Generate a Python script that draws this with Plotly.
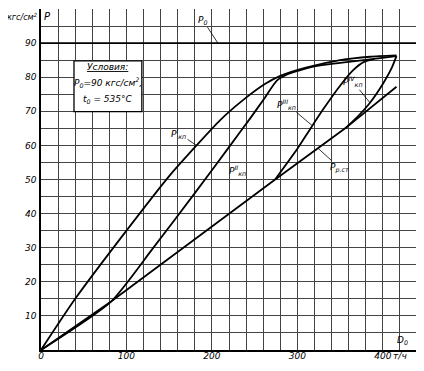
import plotly.graph_objects as go

# ---- data ----
D_kp1 = [0, 40, 100, 150, 182, 210, 240, 262, 280, 310, 350, 385, 416]
P_kp1 = [0, 15, 35, 51, 60, 67.5, 74, 78, 80.4, 82.8, 85.0, 86.0, 86.4]

D_kp2 = [0, 82, 130, 180, 220, 245, 262, 276, 290, 320, 350, 385, 416]
P_kp2 = [0, 14.2, 29.5, 46, 59.5, 68, 74, 79, 81, 83.2, 84.2, 85.2, 86.2]

D_kp3 = [274, 300, 315, 330, 350, 365, 378, 390]
P_kp3 = [50, 59, 64.8, 70.5, 77.5, 82, 84.5, 85.3]

D_kp4 = [356, 370, 385, 400, 410, 416]
P_kp4 = [65, 68.3, 72.5, 78, 82.5, 86.2]

D_pst = [0, 82, 274, 356, 416]
P_pst = [0, 14.2, 50, 65, 77.2]

D_p0 = [0, 440]
P_p0 = [90, 90]

x_tickvals = list(range(0, 441, 20))
x_ticktext = [str(v) if v in (0, 100, 200, 300, 400) else ("т/ч" if v == 420 else "") for v in x_tickvals]
y_tickvals = list(range(0, 100, 5))
y_ticktext = [str(v) if (v % 10 == 0 and v > 0) else "" for v in y_tickvals]

FONT = "DejaVu Sans"
ital = dict(family=FONT, size=9, color="black", style="italic")

fig = go.Figure()
line_style = dict(color="black", width=1.8, shape="spline", smoothing=0.6)
for xs, ys in [(D_p0, P_p0), (D_kp1, P_kp1), (D_kp2, P_kp2), (D_kp3, P_kp3), (D_kp4, P_kp4)]:
    fig.add_trace(go.Scatter(x=xs, y=ys, mode="lines", line=line_style, showlegend=False, hoverinfo="skip"))
fig.add_trace(go.Scatter(x=D_pst, y=P_pst, mode="lines", line=dict(color="black", width=1.8),
                         showlegend=False, hoverinfo="skip"))

# right border of grid
fig.add_shape(type="line", x0=440, x1=440, y0=0, y1=100, line=dict(color="#444", width=1))

# conditions box
fig.add_shape(type="rect", x0=38.6, x1=118, y0=69.9, y1=84.8,
              fillcolor="white", line=dict(color="black", width=1.3), layer="above")
box_lines = [("<u>Условия:</u>", 83.0), ("P<sub>0</sub>=90 кгс/см<sup>2</sup>,", 78.4), ("t<sub>0</sub> = 535°C", 73.6)]
for txt, yy in box_lines:
    fig.add_annotation(x=78.3, y=yy, text=txt, showarrow=False, font=ital, xanchor="center", yanchor="middle")

# curve labels with leaders
labels = [
    ("P<sub>0</sub>", D_p0[0] + 207, 90, -15, -23),
    ("P<sup>I</sup><sub>кп</sub>", D_kp1[4], P_kp1[4], -18, -12),
    ("P<sup>II</sup><sub>кп</sub>", 213, 57.2, 14, 16),
    ("P<sup>III</sup><sub>кп</sub>", 317, 65.9, -25, -21),
    ("P<sup>IV</sup><sub>кп</sub>", 385, 72.5, -17, -21),
    ("P<sub>р.ст</sub>", 324, 59.2, 22, 20),
]
for txt, xx, yy, ax, ay in labels:
    fig.add_annotation(x=xx, y=yy, text=txt, showarrow=True, arrowhead=0, arrowwidth=0.8,
                       arrowcolor="black", ax=ax, ay=ay, font=dict(family=FONT, size=9, color="black", style="italic"))

# axis captions
fig.add_annotation(xref="paper", yref="paper", x=-0.003, y=0.977, xanchor="right", yanchor="middle",
                   text="кгс/см<sup>2</sup>", showarrow=False,
                   font=dict(family=FONT, size=8, color="black", style="italic"))
fig.add_annotation(xref="paper", yref="paper", x=0.003, y=0.977, xanchor="left", yanchor="middle",
                   text="P", showarrow=False,
                   font=dict(family=FONT, size=10, color="black", style="italic"))
fig.add_annotation(xref="paper", yref="paper", x=0.962, y=0.005, xanchor="center", yanchor="bottom",
                   text="D<sub>0</sub>", showarrow=False,
                   font=dict(family=FONT, size=9, color="black", style="italic"))

grid = dict(showgrid=True, gridcolor="#444", gridwidth=1)
fig.update_xaxes(range=[0, 440], tickvals=x_tickvals, ticktext=x_ticktext, zeroline=False, tickangle=0,
                 showline=True, linecolor="black", linewidth=1.5, ticks="", ticklabelstandoff=-4,
                 tickfont=dict(family=FONT, size=9, color="black", style="italic"), **grid)
fig.update_yaxes(range=[0, 100], tickvals=y_tickvals, ticktext=y_ticktext, zeroline=False,
                 showline=True, linecolor="black", linewidth=1.5, ticks="", ticklabelstandoff=1,
                 tickfont=dict(family=FONT, size=9, color="black", style="italic"), **grid)

# page body has an 8px default margin, so the figure is sized/offset to compensate
fig.update_layout(width=416, height=363, margin=dict(l=33, r=7, t=1, b=21),
                  plot_bgcolor="white", paper_bgcolor="white", font=dict(family=FONT))

fig.write_html("out.html")
